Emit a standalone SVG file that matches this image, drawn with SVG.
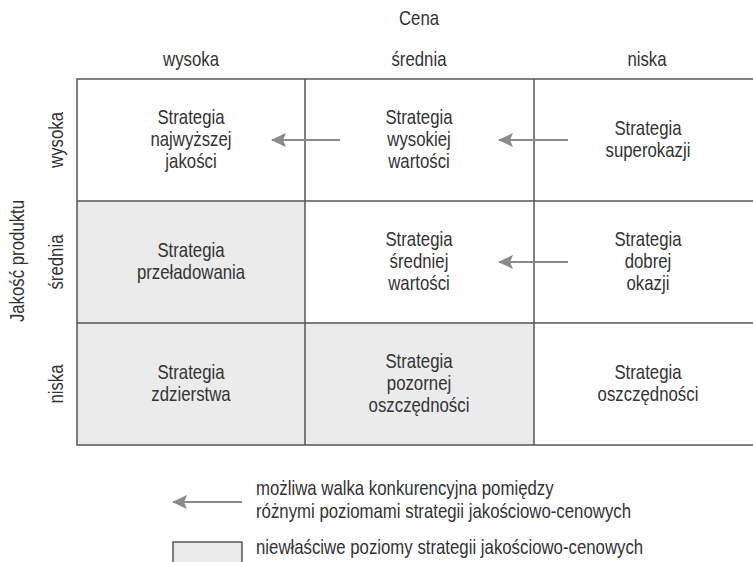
<svg xmlns="http://www.w3.org/2000/svg" width="753" height="562" viewBox="0 0 753 562">
  <defs>
    <style>
      .t { font-family: "Liberation Sans", Arial, sans-serif; font-size: 20px; fill: #333; text-anchor: middle; }
      .l { font-family: "Liberation Sans", Arial, sans-serif; font-size: 20px; fill: #333; text-anchor: start; }
      .grid { stroke: #555; stroke-width: 1.5; fill: none; }
      .shade { fill: #ebebeb; }
      .arrow { stroke: #8a8a8a; stroke-width: 2; fill: none; marker-end: url(#head); }
    </style>
    <marker id="head" viewBox="0 0 15 14" refX="14" refY="7" markerWidth="15" markerHeight="14" markerUnits="userSpaceOnUse" orient="auto">
      <path d="M0,0 L15,7 L0,14 L3,7 Z" fill="#8a8a8a"/>
    </marker>
  </defs>
  <rect width="753" height="562" fill="#fff"/>

  <!-- axis titles -->
  <g id="axis-labels">
    <text class="t" transform="translate(419,25) scale(0.84,1)">Cena</text>
    <text class="t" transform="translate(191,66) scale(0.84,1)">wysoka</text>
    <text class="t" transform="translate(419,66) scale(0.84,1)">średnia</text>
    <text class="t" transform="translate(647,66) scale(0.84,1)">niska</text>
    <text class="t" transform="translate(24,261) rotate(-90) scale(0.84,1)">Jakość produktu</text>
    <text class="t" transform="translate(63,140) rotate(-90) scale(0.84,1)">wysoka</text>
    <text class="t" transform="translate(63,262) rotate(-90) scale(0.84,1)">średnia</text>
    <text class="t" transform="translate(63,384) rotate(-90) scale(0.84,1)">niska</text>
  </g>

  <!-- shaded (inappropriate) cells -->
  <rect class="shade" x="77" y="201" width="228" height="244"/>
  <rect class="shade" x="305" y="323" width="229" height="122"/>

  <!-- matrix grid -->
  <g id="grid" class="grid">
    <path d="M753,79 H77 V445 H753"/>
    <path d="M77,201 H753 M77,323 H753"/>
    <path d="M305,79 V445 M534,79 V445"/>
  </g>

  <!-- cells -->
  <g id="cell-najwyzszej-jakosci">
    <text class="t" transform="translate(191,0) scale(0.84,1)"><tspan x="0" y="124">Strategia</tspan><tspan x="0" y="146">najwyższej</tspan><tspan x="0" y="168">jakości</tspan></text>
  </g>
  <g id="cell-wysokiej-wartosci">
    <text class="t" transform="translate(419,0) scale(0.84,1)"><tspan x="0" y="124">Strategia</tspan><tspan x="0" y="146">wysokiej</tspan><tspan x="0" y="168">wartości</tspan></text>
  </g>
  <g id="cell-superokazji">
    <text class="t" transform="translate(648,0) scale(0.84,1)"><tspan x="0" y="135">Strategia</tspan><tspan x="0" y="157">superokazji</tspan></text>
  </g>
  <g id="cell-przeladowania">
    <text class="t" transform="translate(191,0) scale(0.84,1)"><tspan x="0" y="257">Strategia</tspan><tspan x="0" y="279">przeładowania</tspan></text>
  </g>
  <g id="cell-sredniej-wartosci">
    <text class="t" transform="translate(419,0) scale(0.84,1)"><tspan x="0" y="246">Strategia</tspan><tspan x="0" y="268">średniej</tspan><tspan x="0" y="290">wartości</tspan></text>
  </g>
  <g id="cell-dobrej-okazji">
    <text class="t" transform="translate(648,0) scale(0.84,1)"><tspan x="0" y="246">Strategia</tspan><tspan x="0" y="268">dobrej</tspan><tspan x="0" y="290">okazji</tspan></text>
  </g>
  <g id="cell-zdzierstwa">
    <text class="t" transform="translate(191,0) scale(0.84,1)"><tspan x="0" y="379">Strategia</tspan><tspan x="0" y="401">zdzierstwa</tspan></text>
  </g>
  <g id="cell-pozornej-oszczednosci">
    <text class="t" transform="translate(419,0) scale(0.84,1)"><tspan x="0" y="368">Strategia</tspan><tspan x="0" y="390">pozornej</tspan><tspan x="0" y="412">oszczędności</tspan></text>
  </g>
  <g id="cell-oszczednosci">
    <text class="t" transform="translate(648,0) scale(0.84,1)"><tspan x="0" y="379">Strategia</tspan><tspan x="0" y="401">oszczędności</tspan></text>
  </g>

  <!-- competition arrows -->
  <g id="connectors">
    <line class="arrow" x1="340" y1="140" x2="272" y2="140"/>
    <line class="arrow" x1="568" y1="140" x2="499" y2="140"/>
    <line class="arrow" x1="568" y1="262" x2="499" y2="262"/>
  </g>

  <!-- legend -->
  <g id="legend">
    <line class="arrow" x1="242" y1="502" x2="173" y2="502"/>
    <text class="l" transform="translate(256,0) scale(0.84,1)"><tspan x="0" y="495">możliwa walka konkurencyjna pomiędzy</tspan><tspan x="0" y="518">różnymi poziomami strategii jakościowo-cenowych</tspan></text>
    <rect class="shade" x="173" y="542" width="69" height="30" stroke="#555" stroke-width="1.5"/>
    <text class="l" transform="translate(256,554) scale(0.84,1)">niewłaściwe poziomy strategii jakościowo-cenowych</text>
  </g>
</svg>
